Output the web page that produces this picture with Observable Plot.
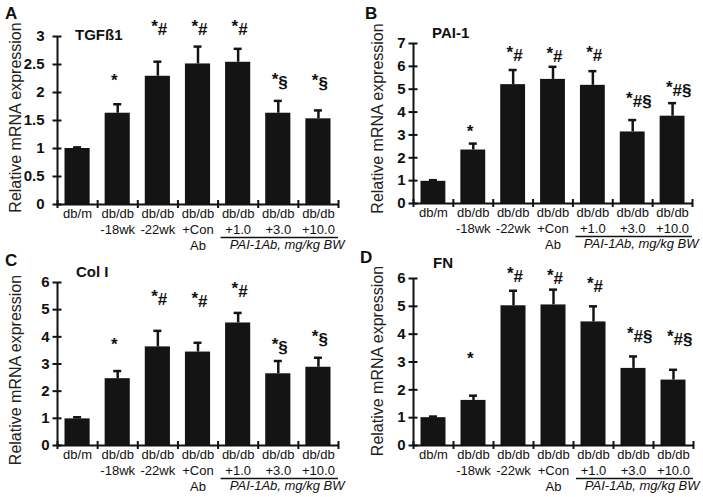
<!DOCTYPE html>
<html><head><meta charset="utf-8">
<script src="https://cdn.jsdelivr.net/npm/d3@7"></script>
<script src="https://cdn.jsdelivr.net/npm/@observablehq/plot@0.6"></script>
<style>
body{margin:0;background:#fff;font-family:"Liberation Sans",Arial,sans-serif;color:#111;}
#wrap{position:relative;width:703px;height:497px;overflow:hidden;background:#fff;}
.panel{position:absolute;}
.letter{position:absolute;font-weight:bold;font-size:17px;line-height:1;}
.title{position:absolute;font-weight:bold;font-size:15px;line-height:1;}
</style></head><body><div id="wrap"></div>
<script>
// Shared categories and labels
const categories = ["db/m", "db/db\n-18wk", "db/db\n-22wk", "db/db\n+Con\nAb", "db/db\n+1.0", "db/db\n+3.0", "db/db\n+10.0"];
const antibodyGroup = ["db/db\n+1.0", "db/db\n+3.0", "db/db\n+10.0"];
const groupLabel = "PAI-1Ab, mg/kg BW";
const yLabel = "Relative mRNA expression";

// Panel A: TGFß1
const tgfMean = [1.00, 1.63, 2.29, 2.51, 2.54, 1.63, 1.53];
const tgfErr  = [0.02, 0.16, 0.26, 0.31, 0.24, 0.22, 0.15];
const tgfAnn  = ["", "*", "*#", "*#", "*#", "*§", "*§"];
const tgfAnnY = [0, 2.07, 3.02, 3.02, 3.02, 2.08, 2.06];
const tgfTicks = [0, 0.5, 1, 1.5, 2, 2.5, 3];

// Panel B: PAI-1
const paiMean = [0.97, 2.34, 5.20, 5.43, 5.17, 3.13, 3.82];
const paiErr  = [0.05, 0.28, 0.64, 0.55, 0.62, 0.52, 0.57];
const paiAnn  = ["", "*", "*#", "*#", "*#", "*#§", "*#§"];
const paiAnnY = [0, 2.76, 6.24, 6.17, 6.24, 4.21, 4.72];
const paiTicks = [0, 1, 2, 3, 4, 5, 6, 7];

// Panel C: Col I
const colMean = [0.98, 2.46, 3.63, 3.44, 4.51, 2.64, 2.88];
const colErr  = [0.06, 0.28, 0.59, 0.34, 0.37, 0.47, 0.35];
const colAnn  = ["", "*", "*#", "*#", "*#", "*§", "*§"];
const colAnnY = [0, 3.42, 5.17, 5.10, 5.47, 3.42, 3.69];
const colTicks = [0, 1, 2, 3, 4, 5, 6];

// Panel D: FN
const fnMean = [1.00, 1.62, 5.02, 5.05, 4.44, 2.77, 2.35];
const fnErr  = [0.04, 0.17, 0.54, 0.55, 0.56, 0.43, 0.37];
const fnAnn  = ["", "*", "*#", "*#", "*#", "*#§", "*#§"];
const fnAnnY = [0, 2.82, 5.88, 5.82, 5.52, 3.72, 3.60];
const fnTicks = [0, 1, 2, 3, 4, 5, 6];

const FONT = '"Liberation Sans", Arial, sans-serif';
const wrap = document.getElementById("wrap");

function addPanel(cfg) {
  const rows = categories.map((label, i) => ({
    i, label, mean: cfg.mean[i], err: cfg.err[i], ann: cfg.ann[i], annY: cfg.annY[i]
  }));
  const annRows = rows.filter(d => d.ann);
  const n = categories.length;
  const gStart = categories.indexOf(antibodyGroup[0]);
  const gEnd = categories.indexOf(antibodyGroup[antibodyGroup.length - 1]) + 1;
  const yMax = cfg.ticks[cfg.ticks.length - 1];
  const svg = Plot.plot({
    width: cfg.width, height: cfg.height,
    marginLeft: cfg.ml, marginRight: cfg.mr, marginTop: cfg.mt, marginBottom: cfg.mb,
    x: {domain: [0, n]},
    y: {domain: [0, yMax]},
    style: {background: "transparent", overflow: "visible", fontFamily: FONT, color: "#111"},
    marks: [
      Plot.rectY(rows, {x1: d => d.i, x2: d => d.i + 1, y1: () => 0, y2: d => d.mean,
        insetLeft: 7.5, insetRight: 7.5, fill: "#141414"}),
      Plot.ruleX(rows, {x: d => d.i + 0.5, y1: d => d.mean, y2: d => d.mean + d.err,
        stroke: "#141414", strokeWidth: 2.5}),
      Plot.ruleY(rows, {x1: d => d.i + 0.5, x2: d => d.i + 0.5, y: d => d.mean + d.err,
        insetLeft: -4, insetRight: -4, stroke: "#141414", strokeWidth: 2.5}),
      Plot.ruleX([0], {stroke: "#111", strokeWidth: 2}),
      Plot.ruleY([0], {stroke: "#111", strokeWidth: 2}),
      Plot.axisY({ticks: cfg.ticks, tickSize: 0, tickPadding: cfg.tickPad, label: null,
        fontSize: 15, fontWeight: "bold", tickFormat: d => String(d)}),
      Plot.axisY({ticks: cfg.ticks, tickSize: 9, dx: 4.5, label: null, strokeWidth: 2,
        tickFormat: () => ""}),
      Plot.axisX({ticks: d3.range(n + 1), tickSize: 8, dy: -4, label: null, strokeWidth: 2,
        tickFormat: () => ""}),
      Plot.text(rows, {x: d => d.i + 0.5, text: d => d.label, frameAnchor: "bottom",
        lineAnchor: "top", dy: 2, fontSize: 13, lineHeight: 16 / 13, fill: "#111"}),
      Plot.ruleY([0], {x1: () => gStart, x2: () => gEnd, dy: 33, insetLeft: 3,
        stroke: "#111", strokeWidth: 1.3}),
      Plot.text([groupLabel], {x: () => gEnd, text: d => d, frameAnchor: "bottom",
        lineAnchor: "top", textAnchor: "end", dx: 6, dy: 3 + 2 * 16, fontSize: 13,
        fontStyle: "italic", fill: "#111"}),
      Plot.text([yLabel], {frameAnchor: "left", text: d => d, rotate: -90, dx: cfg.ylabDx,
        dy: cfg.ylabDy, textAnchor: "middle", lineAnchor: "middle", fontSize: 16, fill: "#222"}),
      Plot.text(annRows, {x: d => d.i + 0.5, y: d => d.annY, text: d => d.ann.slice(0, 1),
        textAnchor: "end", lineAnchor: "bottom", dy: -3, fontSize: 17, fontWeight: "bold", fill: "#111"}),
      Plot.text(annRows, {x: d => d.i + 0.5, y: d => d.annY, text: d => d.ann.slice(1),
        textAnchor: "start", lineAnchor: "bottom", fontSize: 17, fontWeight: "bold", fill: "#111"})
    ]
  });
  const div = document.createElement("div");
  div.className = "panel";
  div.style.left = cfg.left + "px";
  div.style.top = cfg.top + "px";
  div.appendChild(svg);
  wrap.appendChild(div);

  const letter = document.createElement("div");
  letter.className = "letter";
  letter.textContent = cfg.letter;
  letter.style.left = cfg.letterPos[0] + "px";
  letter.style.top = cfg.letterPos[1] + "px";
  wrap.appendChild(letter);

  const title = document.createElement("div");
  title.className = "title";
  title.textContent = cfg.title;
  title.style.left = cfg.titlePos[0] + "px";
  title.style.top = cfg.titlePos[1] + "px";
  wrap.appendChild(title);
}

addPanel({letter: "A", title: "TGFß1", mean: tgfMean, err: tgfErr, ann: tgfAnn, annY: tgfAnnY, ticks: tgfTicks,
  left: 0, top: 0, width: 350, height: 250, ml: 57, mr: 12, mt: 36, mb: 46, tickPad: 13, ylabDx: -42, ylabDy: -3,
  letterPos: [5, 5], titlePos: [75, 27]});
addPanel({letter: "B", title: "PAI-1", mean: paiMean, err: paiErr, ann: paiAnn, annY: paiAnnY, ticks: paiTicks,
  left: 350, top: 0, width: 353, height: 250, ml: 63, mr: 11, mt: 43, mb: 47, tickPad: 8, ylabDx: -36, ylabDy: -5,
  letterPos: [365, 5], titlePos: [432, 25]});
addPanel({letter: "C", title: "Col I", mean: colMean, err: colErr, ann: colAnn, annY: colAnnY, ticks: colTicks,
  left: 0, top: 250, width: 350, height: 247, ml: 57, mr: 12, mt: 32, mb: 52, tickPad: 8, ylabDx: -42, ylabDy: 6,
  letterPos: [5, 252], titlePos: [76, 264]});
addPanel({letter: "D", title: "FN", mean: fnMean, err: fnErr, ann: fnAnn, annY: fnAnnY, ticks: fnTicks,
  left: 350, top: 250, width: 353, height: 247, ml: 63, mr: 10, mt: 28, mb: 52, tickPad: 8, ylabDx: -36, ylabDy: -1,
  letterPos: [360, 249], titlePos: [433, 255]});
</script>
</body></html>
